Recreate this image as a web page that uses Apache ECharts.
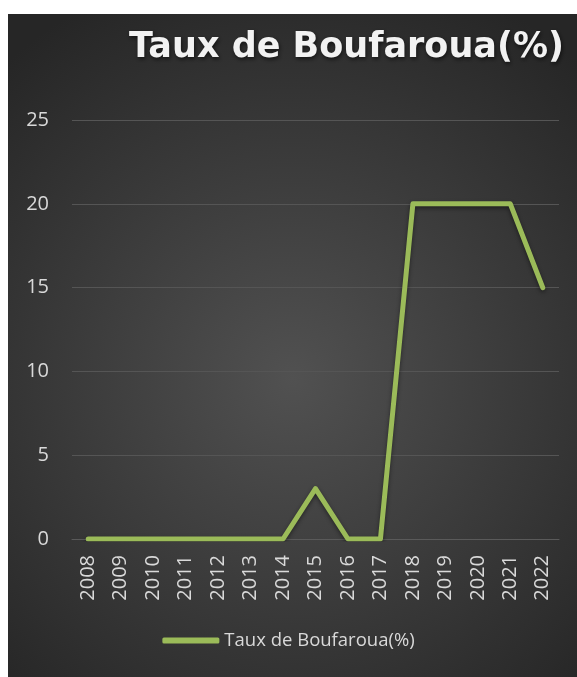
<!DOCTYPE html>
<html>
<head>
<meta charset="utf-8">
<script src="https://cdn.jsdelivr.net/npm/echarts@6/dist/echarts.min.js"></script>
<style>
  html, body { margin: 0; padding: 0; background: #fff; }
  #main { width: 577px; height: 677px; }
</style>
</head>
<body>
<div id="main"></div>
<script>
// data
var years = ['2008', '2009', '2010', '2011', '2012', '2013', '2014', '2015',
             '2016', '2017', '2018', '2019', '2020', '2021', '2022'];
var taux = [0, 0, 0, 0, 0, 0, 0, 3, 0, 0, 20, 20, 20, 20, 15];
var seriesName = 'Taux de Boufaroua(%)';
var yTicks = { min: 0, max: 25, step: 5 };

var labelColor = '#d9d9d9';
var green = '#9bbb59';

var chart = echarts.init(document.getElementById('main'));
var option = {
    animation: false,
    graphic: [{
        type: 'rect',
        z: -10,
        shape: { x: 8, y: 14, width: 569, height: 663 },
        style: {
            fill: {
                type: 'radial', x: 0.5, y: 0.55, r: 0.75,
                colorStops: [
                    { offset: 0, color: '#515151' },
                    { offset: 1, color: '#262626' }
                ]
            }
        }
    }],
    title: {
        text: seriesName,
        right: 8,
        top: 25,
        textStyle: {
            color: '#f2f2f2',
            fontFamily: 'DejaVu Sans',
            fontWeight: 'bold',
            fontSize: 35,
            textShadowColor: 'rgba(0,0,0,0.6)',
            textShadowBlur: 4,
            textShadowOffsetX: 1,
            textShadowOffsetY: 2
        }
    },
    grid: { left: 72, right: 18, top: 120, bottom: 138 },
    xAxis: {
        type: 'category',
        data: years,
        boundaryGap: true,
        axisLine: { lineStyle: { color: '#5a5a5a', width: 1 } },
        axisTick: { show: false },
        axisLabel: {
            rotate: 90,
            margin: 16,
            color: labelColor,
            fontSize: 20,
            fontFamily: 'Open Sans'
        }
    },
    yAxis: {
        type: 'value',
        min: yTicks.min,
        max: yTicks.max,
        interval: yTicks.step,
        axisLine: { show: false },
        axisTick: { show: false },
        splitLine: { lineStyle: { color: '#555555', width: 1 } },
        axisLabel: {
            margin: 23,
            color: labelColor,
            fontSize: 20,
            fontFamily: 'Open Sans'
        }
    },
    legend: {
        bottom: 22,
        left: 'center',
        icon: 'roundRect',
        itemWidth: 57,
        itemHeight: 6,
        itemGap: 4,
        textStyle: { color: labelColor, fontSize: 18.5, fontFamily: 'Open Sans' },
        data: [seriesName]
    },
    series: [{
        name: seriesName,
        type: 'line',
        data: taux,
        symbol: 'none',
        itemStyle: { color: green },
        lineStyle: {
            color: green,
            width: 5,
            cap: 'round',
            join: 'round',
            shadowColor: 'rgba(0,0,0,0.45)',
            shadowBlur: 4,
            shadowOffsetY: 2
        }
    }]
};
chart.setOption(option);
</script>
</body>
</html>
